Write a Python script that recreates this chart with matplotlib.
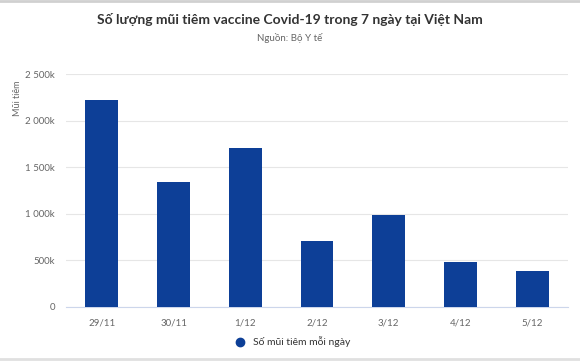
import matplotlib.pyplot as plt
from matplotlib.lines import Line2D

plt.rcParams['font.family'] = ['Lato', 'DejaVu Sans']

days = ["29/11", "30/11", "1/12", "2/12", "3/12", "4/12", "5/12"]
doses = [2221000, 1341000, 1706000, 708000, 987000, 483000, 386000]
yticks = [0, 500000, 1000000, 1500000, 2000000, 2500000]
ytick_labels = ["0", "500k", "1 000k", "1 500k", "2 000k", "2 500k"]

bar_color = "#0d3f97"

fig = plt.figure(figsize=(5.8, 3.64), dpi=100)
ax = fig.add_axes([66 / 580, 1 - 307 / 364, 502 / 580, 233 / 364])

x = range(len(days))
ax.bar(x, doses, width=0.46, color=bar_color, zorder=3)
ax.set_xlim(-0.5, len(days) - 0.5)
ax.set_ylim(0, 2500000)
ax.set_xticks(list(x))
ax.set_xticklabels(days, fontsize=7, color="#666666")
ax.set_yticks(yticks)
ax.set_yticklabels(ytick_labels, fontsize=7, color="#666666")
ax.tick_params(axis="both", length=0, pad=8)
ax.grid(axis="y", color="#e6e6e6", linewidth=0.8, zorder=0)
for s in ["top", "right", "left"]:
    ax.spines[s].set_visible(False)
ax.spines["bottom"].set_color("#ccd6eb")
ax.spines["bottom"].set_linewidth(0.8)

fig.text(17 / 580, 1 - 98 / 364, "Mũi tiêm", rotation=90, fontsize=6.5,
         color="#666666", ha="center", va="center")

fig.text(0.5, 1 - 20 / 364, "Số lượng mũi tiêm vaccine Covid-19 trong 7 ngày tại Việt Nam",
         fontsize=10, fontweight="bold", color="#333333", ha="center", va="center")
fig.text(0.5, 1 - 38 / 364, "Nguồn: Bộ Y tế", fontsize=7, color="#666666",
         ha="center", va="center")

handle = Line2D([], [], marker="o", linestyle="none", color=bar_color, markersize=6)
fig.legend([handle], ["Số mũi tiêm mỗi ngày"], loc="center",
           bbox_to_anchor=(0.5, 1 - 342 / 364), frameon=False, fontsize=7.5,
           handletextpad=0.2, labelcolor="#333333")

# light gray frame lines at top and bottom
fig.add_artist(Line2D([0, 1], [0.997, 0.997], color="#d0d0d0", linewidth=2))
fig.add_artist(Line2D([0, 1], [1 - 359 / 364, 1 - 359 / 364], color="#e0e0e0", linewidth=2))

fig.savefig("out.png", dpi=100)
